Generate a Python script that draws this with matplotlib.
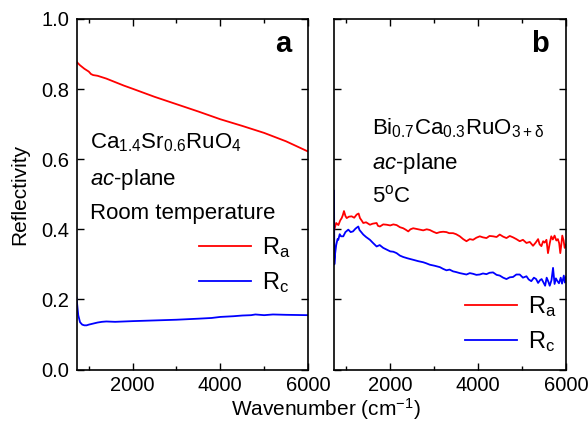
import matplotlib
matplotlib.use("Agg")
import matplotlib.pyplot as plt
from matplotlib.lines import Line2D

plt.rcParams['font.family'] = ['Liberation Sans', 'DejaVu Sans']
plt.rcParams['mathtext.fontset'] = 'custom'
plt.rcParams['mathtext.rm'] = 'Liberation Sans'
plt.rcParams['mathtext.it'] = 'Liberation Sans:italic'
plt.rcParams['mathtext.bf'] = 'Liberation Sans:bold'

# ---- Data: panel a (Ca1.4Sr0.6RuO4) ----
a_ra_x = [720, 800, 900, 1000, 1050, 1100, 1200, 1400, 1600, 1800, 2000, 2500, 3000,
          3500, 4000, 4500, 5000, 5500, 6000]
a_ra_y = [0.878, 0.868, 0.858, 0.850, 0.843, 0.840, 0.838, 0.830, 0.820, 0.810, 0.801,
          0.778, 0.757, 0.736, 0.714, 0.695, 0.675, 0.651, 0.622]
a_rc_x = [720, 740, 760, 800, 850, 900, 950, 1000, 1100, 1200, 1300, 1400, 1600, 2000,
          2500, 3000, 3500, 3800, 4000, 4300, 4500, 4700, 4800, 5000, 5200, 5500, 6000]
a_rc_y = [0.205, 0.180, 0.155, 0.135, 0.128, 0.126, 0.126, 0.128, 0.131, 0.134, 0.136,
          0.137, 0.136, 0.138, 0.140, 0.142, 0.145, 0.147, 0.150, 0.152, 0.154, 0.155,
          0.157, 0.155, 0.157, 0.156, 0.155]

# ---- Data: panel b (Bi0.7Ca0.3RuO3+d) ----
b_ra_x = [720, 740, 770, 820, 860, 895, 920, 947, 980, 1009, 1060, 1122, 1180, 1236,
          1280, 1311, 1350, 1386, 1450, 1538, 1600, 1690, 1720, 1765, 1840, 1920, 2000,
          2070, 2145, 2220, 2295, 2350, 2410, 2460, 2522, 2600, 2675, 2750, 2830, 2900,
          2980, 3055, 3130, 3205, 3280, 3340, 3430, 3500, 3583, 3660, 3735, 3810, 3885,
          3960, 4038, 4110, 4190, 4260, 4340, 4420, 4492, 4570, 4645, 4720, 4795, 4870,
          4947, 5020, 5100, 5175, 5250, 5310, 5365, 5400, 5440, 5480, 5515, 5555, 5590,
          5630, 5665, 5700, 5740, 5780, 5815, 5845, 5870, 5895, 5915, 5945, 5970, 6000]
b_ra_y = [0.395, 0.405, 0.418, 0.412, 0.425, 0.432, 0.440, 0.452, 0.438, 0.432, 0.436,
          0.437, 0.433, 0.442, 0.445, 0.432, 0.425, 0.418, 0.420, 0.413, 0.416, 0.418,
          0.410, 0.408, 0.414, 0.413, 0.411, 0.414, 0.412, 0.406, 0.403, 0.399, 0.394,
          0.400, 0.403, 0.401, 0.399, 0.397, 0.400, 0.398, 0.393, 0.389, 0.392, 0.393,
          0.392, 0.389, 0.389, 0.386, 0.380, 0.372, 0.366, 0.372, 0.370, 0.376, 0.380,
          0.377, 0.375, 0.381, 0.380, 0.378, 0.385, 0.379, 0.375, 0.381, 0.377, 0.372,
          0.366, 0.370, 0.361, 0.364, 0.353, 0.362, 0.372, 0.357, 0.352, 0.366, 0.362,
          0.370, 0.332, 0.360, 0.380, 0.371, 0.382, 0.368, 0.372, 0.360, 0.332, 0.358,
          0.382, 0.368, 0.347, 0.356]
b_rc_x = [720, 728, 745, 770, 800, 818, 850, 880, 931, 980, 1045, 1100, 1152, 1210, 1273,
          1300, 1340, 1386, 1450, 1538, 1600, 1690, 1760, 1840, 1920, 2000, 2070, 2145,
          2220, 2295, 2400, 2522, 2640, 2750, 2820, 2900, 3010, 3130, 3205, 3280, 3350,
          3430, 3500, 3583, 3660, 3735, 3810, 3885, 3960, 4038, 4110, 4190, 4260, 4340,
          4420, 4492, 4570, 4645, 4720, 4795, 4870, 4947, 5020, 5100, 5150, 5210, 5270,
          5320, 5365, 5410, 5445, 5480, 5525, 5560, 5600, 5630, 5670, 5705, 5740, 5770,
          5800, 5840, 5880, 5910, 5950, 5975, 6000]
b_rc_y = [0.510, 0.300, 0.330, 0.355, 0.372, 0.370, 0.386, 0.380, 0.380, 0.392, 0.399,
          0.392, 0.394, 0.402, 0.408, 0.398, 0.392, 0.385, 0.378, 0.370, 0.362, 0.351,
          0.355, 0.347, 0.342, 0.337, 0.336, 0.332, 0.325, 0.321, 0.317, 0.313, 0.309,
          0.306, 0.303, 0.299, 0.296, 0.292, 0.287, 0.283, 0.285, 0.280, 0.278, 0.275,
          0.273, 0.271, 0.275, 0.273, 0.270, 0.271, 0.274, 0.272, 0.276, 0.277, 0.270,
          0.268, 0.262, 0.258, 0.263, 0.264, 0.271, 0.271, 0.262, 0.266, 0.257, 0.252,
          0.262, 0.258, 0.247, 0.255, 0.258, 0.250, 0.239, 0.262, 0.250, 0.239, 0.255,
          0.290, 0.244, 0.260, 0.253, 0.246, 0.262, 0.245, 0.268, 0.248, 0.264]

x_ticks = [2000, 4000, 6000]
y_ticks = [0.0, 0.2, 0.4, 0.6, 0.8, 1.0]
series_labels = [r'R$_\mathregular{a}$', r'R$_\mathregular{c}$']

RED = '#ff0000'
BLUE = '#0000ff'

fig = plt.figure(figsize=(5.88, 4.29), dpi=100)
axA = fig.add_axes([76.5 / 588, 1 - 369.5 / 429, (308 - 76.5) / 588, (369.5 - 19) / 429])
axB = fig.add_axes([334 / 588, 1 - 369.5 / 429, (566 - 334) / 588, (369.5 - 19) / 429])

for ax in (axA, axB):
    ax.set_xlim(720, 6000)
    ax.set_ylim(0, 1.0)
    ax.set_xticks(x_ticks)
    ax.set_xticks([1000, 3000, 5000], minor=True)
    ax.set_yticks(y_ticks)
    ax.tick_params(which='both', direction='in', top=True, right=True, labelsize=14.5,
                   width=1.0, pad=5)
    ax.tick_params(which='major', length=5)
    ax.tick_params(which='minor', length=3)
    for s in ax.spines.values():
        s.set_linewidth(1.2)

axA.set_yticklabels(['0.0', '0.2', '0.4', '0.6', '0.8', '1.0'])
axB.set_yticklabels([])
axA.set_ylabel('Reflectivity', fontsize=15, labelpad=9)

lw = 1.3
axA.plot(a_ra_x, a_ra_y, color=RED, lw=lw)
axA.plot(a_rc_x, a_rc_y, color=BLUE, lw=lw)
axB.plot(b_ra_x, b_ra_y, color=RED, lw=lw)
axB.plot(b_rc_x, b_rc_y, color=BLUE, lw=lw)

handles = [Line2D([], [], color=RED, lw=lw), Line2D([], [], color=BLUE, lw=lw)]
leg_kw = dict(loc='upper left', frameon=False, fontsize=17, handlelength=2.2,
              handletextpad=0.45, labelspacing=0.45, borderaxespad=0, borderpad=0)
legA = axA.legend(handles, series_labels,
                  bbox_to_anchor=((199 - 76.5) / 231.5, (369.5 - 235) / 350.5), **leg_kw)
legB = axB.legend(handles, series_labels,
                  bbox_to_anchor=((465 - 334) / 232, (369.5 - 294) / 350.5), **leg_kw)

# annotations panel a
axA.text(0.93, 0.905, 'a', transform=axA.transAxes, fontsize=21, fontweight='bold',
         ha='right', va='baseline')
axA.text(0.058, 0.63, r'Ca$_\mathregular{1.4}$Sr$_\mathregular{0.6}$RuO$_\mathregular{4}$',
         transform=axA.transAxes, fontsize=16, va='baseline')
axA.text(0.058, 0.525, r'$\mathit{ac}$-plane', transform=axA.transAxes, fontsize=16,
         va='baseline')
axA.text(0.058, 0.43, 'Room temperature', transform=axA.transAxes, fontsize=16,
         va='baseline')

# annotations panel b
axB.text(0.925, 0.905, 'b', transform=axB.transAxes, fontsize=21, fontweight='bold',
         ha='right', va='baseline')
axB.text(0.165, 0.672,
         r'Bi$_\mathregular{0.7}$Ca$_\mathregular{0.3}$RuO$_\mathregular{3+\delta}$',
         transform=axB.transAxes, fontsize=16, va='baseline')
axB.text(0.165, 0.572, r'$\mathit{ac}$-plane', transform=axB.transAxes, fontsize=16,
         va='baseline')
axB.text(0.165, 0.478, r'5$^\mathregular{o}$C', transform=axB.transAxes, fontsize=16,
         va='baseline')

fig.text(326 / 588, 1 - 416 / 429, r'Wavenumber (cm$^\mathregular{-1}$)', fontsize=15,
         ha='center', va='baseline')

fig.savefig('out.png', dpi=100)
